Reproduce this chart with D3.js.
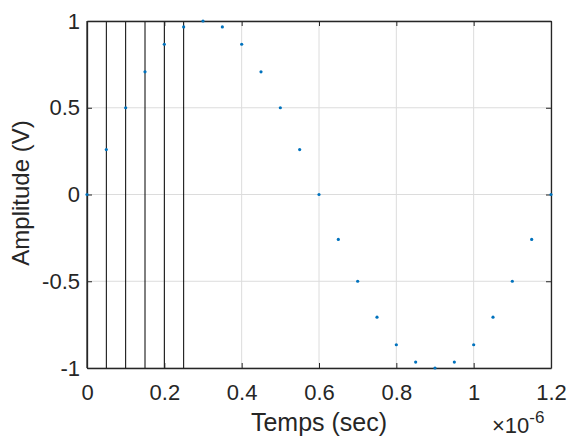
<!DOCTYPE html>
<html><head><meta charset="utf-8">
<script src="https://cdn.jsdelivr.net/npm/d3@7"></script>
<style>body{margin:0;background:#fff}svg{display:block}text{font-family:Helvetica,Arial,"Liberation Sans",sans-serif;fill:#262626}</style>
</head><body>
<svg id="c" width="569" height="437"></svg>
<script>
const times = [0,0.05,0.1,0.15,0.2,0.25,0.3,0.35,0.4,0.45,0.5,0.55,0.6,0.65,0.7,0.75,0.8,0.85,0.9,0.95,1.0,1.05,1.1,1.15,1.2];
const amplitudes = [0,0.2588,0.5,0.7071,0.866,0.9659,1,0.9659,0.866,0.7071,0.5,0.2588,0,-0.2588,-0.5,-0.7071,-0.866,-0.9659,-1,-0.9659,-0.866,-0.7071,-0.5,-0.2588,0];
const markerTimes = [0,0.05,0.1,0.15,0.2,0.25];
const xTicks = [0,0.2,0.4,0.6,0.8,1,1.2];
const yTicks = [-1,-0.5,0,0.5,1];

const svg = d3.select("#c");
const L=87,R=551,T=21,B=368;
const x = d3.scaleLinear().domain([0,1.2]).range([L,R]);
const y = d3.scaleLinear().domain([-1,1]).range([B,T]);

// grid
svg.append("g").selectAll("line").data(xTicks).join("line")
  .attr("x1",d=>x(d)).attr("x2",d=>x(d)).attr("y1",T).attr("y2",B)
  .attr("stroke","#dcdcdc").attr("stroke-width",1);
svg.append("g").selectAll("line").data(yTicks).join("line")
  .attr("x1",L).attr("x2",R).attr("y1",d=>y(d)).attr("y2",d=>y(d))
  .attr("stroke","#dcdcdc").attr("stroke-width",1);

// vertical black lines
svg.append("g").selectAll("line").data(markerTimes).join("line")
  .attr("x1",d=>x(d)).attr("x2",d=>x(d)).attr("y1",y(-1)).attr("y2",y(1))
  .attr("stroke","#000").attr("stroke-width",1);

// axes
const fmt = d=> d===0?"0":String(d);
const xb = svg.append("g").attr("transform",`translate(0,${B})`)
  .call(d3.axisBottom(x).tickValues(xTicks).tickSizeInner(-5).tickSizeOuter(0).tickPadding(16).tickFormat(fmt));
const xt = svg.append("g").attr("transform",`translate(0,${T})`)
  .call(d3.axisTop(x).tickValues(xTicks).tickSizeInner(-5).tickSizeOuter(0).tickFormat(""));
const yl = svg.append("g").attr("transform",`translate(${L},0)`)
  .call(d3.axisLeft(y).tickValues(yTicks).tickSizeInner(-5).tickSizeOuter(0).tickPadding(7).tickFormat(fmt));
const yr = svg.append("g").attr("transform",`translate(${R},0)`)
  .call(d3.axisRight(y).tickValues(yTicks).tickSizeInner(-5).tickSizeOuter(0).tickFormat(""));
[xb,xt,yl,yr].forEach(g=>{
  g.select(".domain").attr("stroke","#262626").attr("stroke-width",1.3);
  g.selectAll(".tick line").attr("stroke","#262626");
  g.selectAll("text").attr("font-size",22).attr("fill","#262626").attr("font-family",null);
});

// points
svg.append("g").selectAll("circle").data(times).join("circle")
  .attr("cx",d=>x(d)).attr("cy",(d,i)=>y(amplitudes[i])).attr("r",1.6)
  .attr("fill","#0072BD");

// labels
svg.append("text").attr("x",(L+R)/2).attr("y",431).attr("text-anchor","middle")
  .attr("font-size",25).text("Temps (sec)");
svg.append("text").attr("transform",`translate(29,193) rotate(-90)`).attr("text-anchor","middle")
  .attr("font-size",24).text("Amplitude (V)");
const ex = svg.append("text").attr("x",492).attr("y",433).attr("font-size",22);
ex.append("tspan").text("\u00d710");
ex.append("tspan").attr("dy",-10).attr("font-size",17).text("-6");
</script>
</body></html>
